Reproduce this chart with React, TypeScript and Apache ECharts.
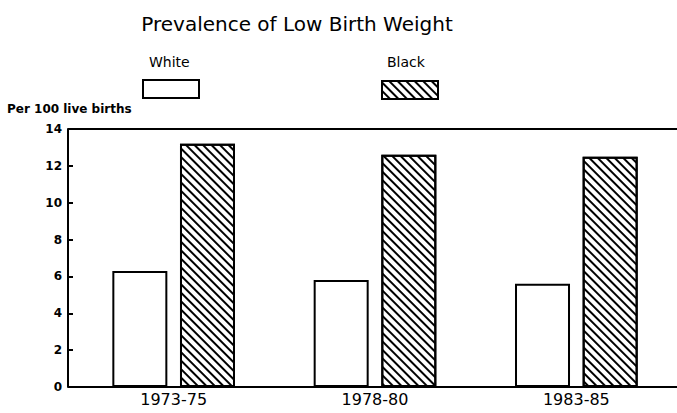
import React, { useEffect, useRef } from "react";
import * as echarts from "echarts";

const categories = ["1973-75", "1978-80", "1983-85"];
const whiteValues = [6.3, 5.8, 5.6];
const blackValues = [13.2, 12.6, 12.5];
const yTicks = [0, 2, 4, 6, 8, 10, 12, 14];
const seriesNames = ["White", "Black"];

const FONT = "DejaVu Sans";

export default function App() {
  const ref = useRef<HTMLDivElement>(null);
  useEffect(() => {
    if (!ref.current) return;
    const chart = echarts.init(ref.current, undefined, { renderer: "svg" });
    const hatch = {
      symbol: "rect",
      symbolSize: 1,
      dashArrayX: [1, 0],
      dashArrayY: [2, 4],
      rotation: Math.PI / 4,
      color: "#000",
      backgroundColor: "#fff",
    };
    chart.setOption({
      animation: false,
      backgroundColor: "#fff",
      textStyle: { fontFamily: FONT, color: "#000" },
      title: {
        text: "Prevalence of Low Birth Weight",
        left: 292,
        top: 9,
        textAlign: "center",
        textStyle: { fontFamily: FONT, fontSize: 20, fontWeight: "normal", color: "#000" },
      },
      legend: [
        {
          data: [seriesNames[0]],
          left: 142,
          top: 79,
          icon: "rect",
          itemWidth: 56,
          itemHeight: 18,
          formatter: () => "",
          selectedMode: false,
          padding: 0,
        },
        {
          data: [seriesNames[1]],
          left: 381,
          top: 80,
          icon: "rect",
          itemWidth: 56,
          itemHeight: 18,
          formatter: () => "",
          selectedMode: false,
          padding: 0,
        },
      ],
      graphic: [
        {
          type: "text",
          left: 149,
          top: 55,
          style: { text: seriesNames[0], font: `14px '${FONT}'`, fill: "#000" },
        },
        {
          type: "text",
          left: 387,
          top: 55,
          style: { text: seriesNames[1], font: `14px '${FONT}'`, fill: "#000" },
        },
        {
          type: "text",
          left: 7,
          top: 103,
          style: { text: "Per 100 live births", font: `bold 12px '${FONT}'`, fill: "#000" },
        },
      ],
      grid: { left: 73, top: 129, width: 612, height: 258, containLabel: false },
      xAxis: [
        {
          type: "category",
          data: categories,
          axisLine: { show: true, lineStyle: { color: "#000", width: 2 } },
          axisTick: { show: false },
          axisLabel: { color: "#000", fontSize: 16, fontFamily: FONT, margin: 4 },
        },
        {
          type: "category",
          data: categories,
          position: "top",
          axisLine: { show: true, lineStyle: { color: "#000", width: 2 } },
          axisTick: { show: false },
          axisLabel: { show: false },
        },
      ],
      yAxis: {
        type: "value",
        min: 0,
        max: 14,
        interval: 2,
        offset: 5,
        axisLine: { show: true, lineStyle: { color: "#000", width: 2 } },
        axisTick: { show: true, inside: true, length: 5, lineStyle: { color: "#000", width: 2 } },
        splitLine: { show: false },
        axisLabel: {
          color: "#000",
          fontSize: 12,
          fontWeight: "bold",
          fontFamily: FONT,
          margin: 6,
          formatter: (v: number) => (yTicks.includes(v) ? String(v) : ""),
        },
      },
      series: [
        {
          name: seriesNames[0],
          type: "bar",
          data: whiteValues,
          barWidth: 55,
          barGap: "23%",
          itemStyle: { color: "#fff", borderColor: "#000", borderWidth: 2 },
        },
        {
          name: seriesNames[1],
          type: "bar",
          data: blackValues,
          barWidth: 55,
          barGap: "23%",
          itemStyle: { color: "#fff", borderColor: "#000", borderWidth: 2, decal: hatch },
        },
      ],
    });
    return () => chart.dispose();
  }, []);
  return (
    <div
      ref={ref}
      style={{ position: "fixed", left: 0, top: 0, width: 677, height: 413 }}
    />
  );
}
